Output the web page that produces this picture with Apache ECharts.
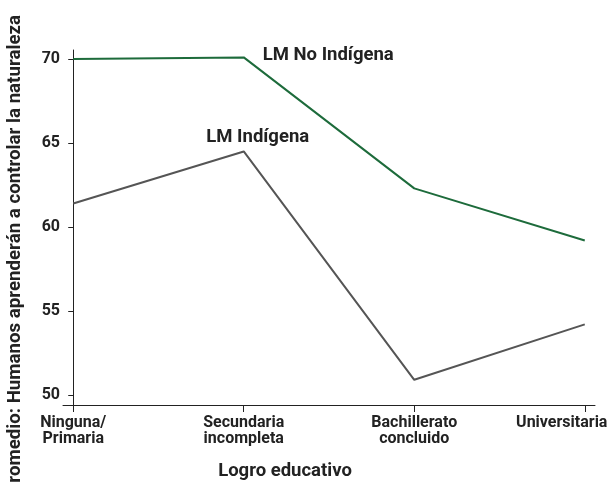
<!DOCTYPE html>
<html>
<head>
<meta charset="utf-8">
<script src="https://cdn.jsdelivr.net/npm/echarts@6/dist/echarts.min.js"></script>
<style>
  html, body { margin: 0; padding: 0; background: #fff; }
  #chart { width: 607px; height: 482px; }
</style>
</head>
<body>
<div id="chart"></div>
<script>
const categories = ['Ninguna/\nPrimaria', 'Secundaria\nincompleta', 'Bachillerato\nconcluido', 'Universitaria'];
const noIndigena = [70.0, 70.1, 62.3, 59.2];
const indigena = [61.4, 64.5, 50.9, 54.2];
const yTicks = [50, 55, 60, 65, 70];

const myChart = echarts.init(document.getElementById('chart'));

const font = 'Roboto, "Liberation Sans", sans-serif';
const toPoints = (arr) => arr.map((v, i) => [i, v]);

const option = {
    animation: false,
    grid: { left: 63, right: 12, top: 50, bottom: 77, outerBoundsMode: 'none', containLabel: false },
    xAxis: {
        type: 'value',
        min: -0.06,
        max: 3.06,
        splitLine: { show: false },
        axisLine: { show: true, lineStyle: { color: '#222', width: 1 } },
        axisTick: {
            show: true, length: 7, inside: false,
            customValues: [0, 1, 2, 3],
            lineStyle: { color: '#222' }
        },
        axisLabel: {
            customValues: [0, 1, 2, 3],
            // el último rótulo se corre a la izquierda para que quepa
            formatter: (v) => {
                const i = Math.round(v);
                return i === categories.length - 1 ? '{last|' + categories[i] + '}' : categories[i];
            },
            color: '#222',
            fontFamily: font,
            fontWeight: 'bold',
            fontSize: 16,
            lineHeight: 16,
            margin: 10,
            rich: {
                last: {
                    color: '#222', fontFamily: font, fontWeight: 'bold', fontSize: 16,
                    lineHeight: 16, padding: [0, 46, 0, 0]
                }
            }
        }
    },
    yAxis: {
        type: 'value',
        min: 49.4,
        max: 70.54,
        splitLine: { show: false },
        axisLine: { show: true, lineStyle: { color: '#222', width: 1 } },
        axisTick: {
            show: true, length: 5,
            customValues: yTicks,
            lineStyle: { color: '#222' }
        },
        axisLabel: {
            customValues: yTicks,
            color: '#222',
            fontFamily: font,
            fontWeight: 'bold',
            fontSize: 16,
            margin: 3
        }
    },
    graphic: [
        {
            type: 'text',
            x: 15,
            y: 15,
            rotation: Math.PI / 2,
            style: {
                text: 'Promedio: Humanos aprenderán a controlar la naturaleza',
                align: 'right',
                verticalAlign: 'middle',
                fill: '#222',
                font: 'bold 18.7px ' + font
            }
        },
        {
            type: 'text',
            x: 285,
            y: 471,
            style: {
                text: 'Logro educativo',
                align: 'center',
                verticalAlign: 'middle',
                fill: '#222',
                font: 'bold 18.5px ' + font
            }
        }
    ],
    series: [
        {
            name: 'LM No Indígena',
            type: 'line',
            data: toPoints(noIndigena).map((p, i) => i === 1 ? {
                value: p,
                label: {
                    show: true, position: 'right', distance: 19, offset: [0, -2],
                    formatter: 'LM No Indígena'
                }
            } : p),
            showSymbol: true,
            symbol: 'circle',
            symbolSize: 0,
            lineStyle: { color: '#1d6b3b', width: 2 },
            itemStyle: { color: '#1d6b3b' },
            label: {
                color: '#222', fontFamily: font, fontWeight: 'bold', fontSize: 18.5
            }
        },
        {
            name: 'LM Indígena',
            type: 'line',
            data: toPoints(indigena).map((p, i) => i === 1 ? {
                value: p,
                label: {
                    show: true, position: 'top', distance: 5, offset: [14, 0],
                    formatter: 'LM Indígena'
                }
            } : p),
            showSymbol: true,
            symbol: 'circle',
            symbolSize: 0,
            lineStyle: { color: '#555555', width: 2 },
            itemStyle: { color: '#555555' },
            label: {
                color: '#222', fontFamily: font, fontWeight: 'bold', fontSize: 18.5
            }
        }
    ]
};

myChart.setOption(option);
</script>
</body>
</html>
